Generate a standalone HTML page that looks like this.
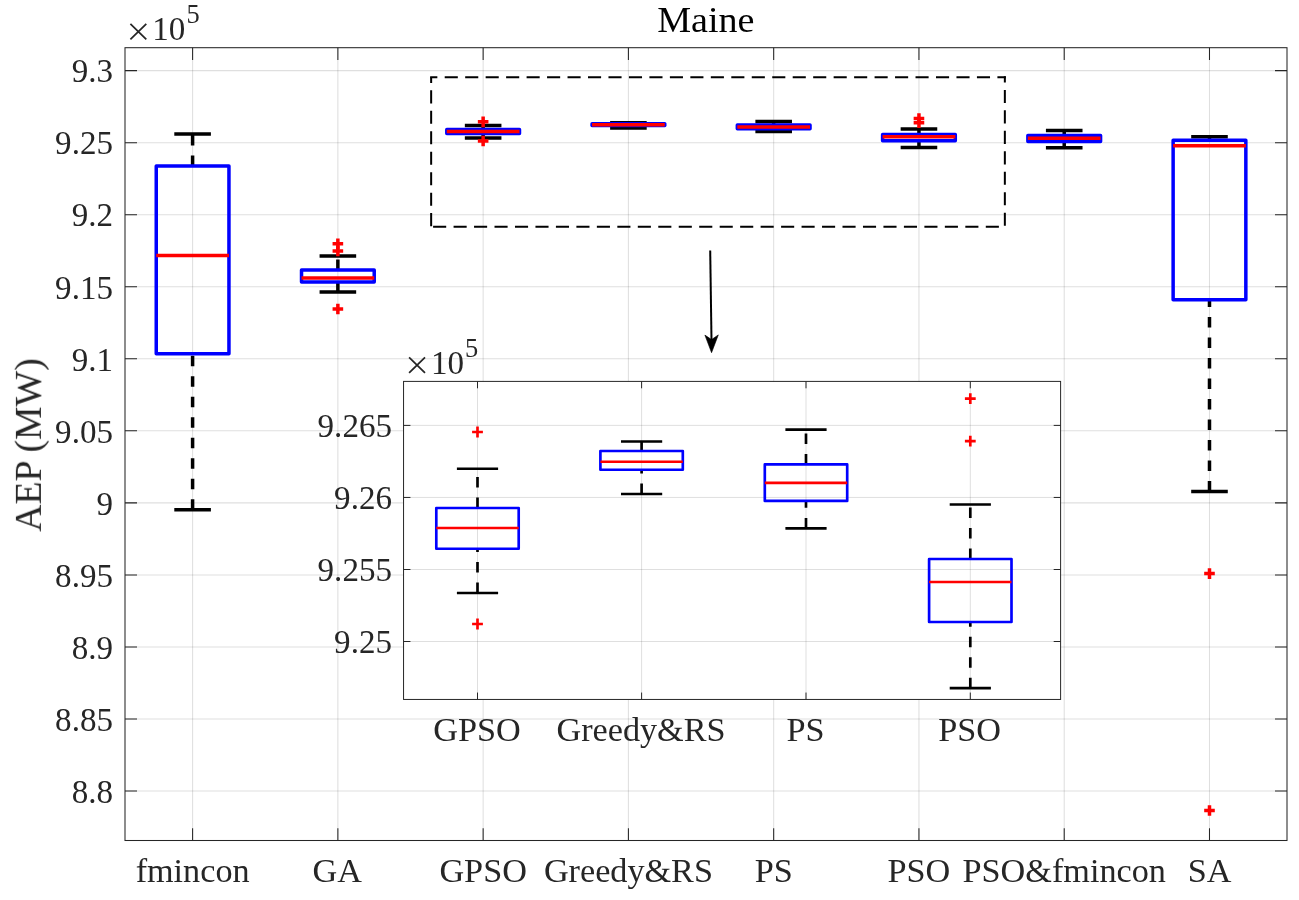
<!DOCTYPE html>
<html><head><meta charset="utf-8"><title>Maine AEP boxplot</title>
<style>html,body{margin:0;padding:0;background:#fff;}svg{display:block;font-family:"Liberation Serif",serif;}</style>
</head><body>
<svg width="1299" height="900" viewBox="0 0 1299 900">
<rect x="0" y="0" width="1299" height="900" fill="#fff"/>
<path d="M192.60 47.7V840.5M337.87 47.7V840.5M483.14 47.7V840.5M628.41 47.7V840.5M773.68 47.7V840.5M918.95 47.7V840.5M1064.22 47.7V840.5M1209.49 47.7V840.5" stroke="#262626" stroke-opacity="0.15" stroke-width="1.05" fill="none"/>
<path d="M125.0 70.60H1287.0M125.0 142.65H1287.0M125.0 214.69H1287.0M125.0 286.74H1287.0M125.0 358.78H1287.0M125.0 430.83H1287.0M125.0 502.87H1287.0M125.0 574.92H1287.0M125.0 646.96H1287.0M125.0 719.01H1287.0M125.0 791.05H1287.0" stroke="#262626" stroke-opacity="0.15" stroke-width="1.05" fill="none"/>
<path d="M192.60 166.00V134.00M192.60 509.75V353.75" stroke="#000" stroke-width="3.5" stroke-dasharray="10.4 10.1" fill="none"/><path d="M174.30 134.00H210.90M174.30 509.75H210.90" stroke="#000" stroke-width="3.5" fill="none"/><rect x="156.25" y="166.00" width="72.70" height="187.75" stroke="#0000ff" stroke-width="3.5" fill="none" stroke-linejoin="round"/><path d="M156.25 255.50H228.95" stroke="#ff0000" stroke-width="3.5" fill="none"/>
<path d="M337.87 270.00V256.00M337.87 292.10V282.00" stroke="#000" stroke-width="3.5" stroke-dasharray="10.4 10.1" fill="none"/><path d="M319.57 256.00H356.17M319.57 292.10H356.17" stroke="#000" stroke-width="3.5" fill="none"/><rect x="301.52" y="270.00" width="72.70" height="12.00" stroke="#0000ff" stroke-width="3.5" fill="none" stroke-linejoin="round"/><path d="M301.52 278.00H374.22" stroke="#ff0000" stroke-width="3.5" fill="none"/><path d="M332.57 243.70H343.17M337.87 238.40V249.00" stroke="#ff0000" stroke-width="3.5" fill="none"/><path d="M332.57 250.90H343.17M337.87 245.60V256.20" stroke="#ff0000" stroke-width="3.5" fill="none"/><path d="M332.57 309.05H343.17M337.87 303.75V314.35" stroke="#ff0000" stroke-width="3.5" fill="none"/>
<path d="M483.14 129.44V125.51M483.14 137.94V133.51" stroke="#000" stroke-width="3.5" stroke-dasharray="10.4 10.1" fill="none"/><path d="M464.84 125.51H501.44M464.84 137.94H501.44" stroke="#000" stroke-width="3.5" fill="none"/><rect x="446.79" y="129.44" width="72.70" height="4.07" stroke="#0000ff" stroke-width="3.5" fill="none" stroke-linejoin="round"/><path d="M446.79 131.44H519.49" stroke="#ff0000" stroke-width="3.5" fill="none"/><path d="M477.84 121.84H488.44M483.14 116.54V127.14" stroke="#ff0000" stroke-width="3.5" fill="none"/><path d="M477.84 141.04H488.44M483.14 135.74V146.34" stroke="#ff0000" stroke-width="3.5" fill="none"/>
<path d="M628.41 123.74V122.79M628.41 128.04V125.61" stroke="#000" stroke-width="3.5" stroke-dasharray="10.4 10.1" fill="none"/><path d="M610.11 122.79H646.71M610.11 128.04H646.71" stroke="#000" stroke-width="3.5" fill="none"/><rect x="592.06" y="123.74" width="72.70" height="1.88" stroke="#0000ff" stroke-width="3.5" fill="none" stroke-linejoin="round"/><path d="M592.06 124.81H664.76" stroke="#ff0000" stroke-width="3.5" fill="none"/>
<path d="M773.68 125.08V121.60M773.68 131.47V128.73" stroke="#000" stroke-width="3.5" stroke-dasharray="10.4 10.1" fill="none"/><path d="M755.38 121.60H791.98M755.38 131.47H791.98" stroke="#000" stroke-width="3.5" fill="none"/><rect x="737.33" y="125.08" width="72.70" height="3.65" stroke="#0000ff" stroke-width="3.5" fill="none" stroke-linejoin="round"/><path d="M737.33 126.92H810.03" stroke="#ff0000" stroke-width="3.5" fill="none"/>
<path d="M918.95 134.54V129.09M918.95 147.46V140.84" stroke="#000" stroke-width="3.5" stroke-dasharray="10.4 10.1" fill="none"/><path d="M900.65 129.09H937.25M900.65 147.46H937.25" stroke="#000" stroke-width="3.5" fill="none"/><rect x="882.60" y="134.54" width="72.70" height="6.30" stroke="#0000ff" stroke-width="3.5" fill="none" stroke-linejoin="round"/><path d="M882.60 136.84H955.30" stroke="#ff0000" stroke-width="3.5" fill="none"/><path d="M913.65 118.51H924.25M918.95 113.21V123.81" stroke="#ff0000" stroke-width="3.5" fill="none"/><path d="M913.65 122.75H924.25M918.95 117.45V128.05" stroke="#ff0000" stroke-width="3.5" fill="none"/>
<path d="M1064.22 135.40V130.50M1064.22 147.75V141.40" stroke="#000" stroke-width="3.5" stroke-dasharray="10.4 10.1" fill="none"/><path d="M1045.92 130.50H1082.52M1045.92 147.75H1082.52" stroke="#000" stroke-width="3.5" fill="none"/><rect x="1027.87" y="135.40" width="72.70" height="6.00" stroke="#0000ff" stroke-width="3.5" fill="none" stroke-linejoin="round"/><path d="M1027.87 138.25H1100.57" stroke="#ff0000" stroke-width="3.5" fill="none"/>
<path d="M1209.49 140.25V136.75M1209.49 491.40V299.75" stroke="#000" stroke-width="3.5" stroke-dasharray="10.4 10.1" fill="none"/><path d="M1191.19 136.75H1227.79M1191.19 491.40H1227.79" stroke="#000" stroke-width="3.5" fill="none"/><rect x="1173.14" y="140.25" width="72.70" height="159.50" stroke="#0000ff" stroke-width="3.5" fill="none" stroke-linejoin="round"/><path d="M1173.14 145.75H1245.84" stroke="#ff0000" stroke-width="3.5" fill="none"/><path d="M1204.19 573.60H1214.79M1209.49 568.30V578.90" stroke="#ff0000" stroke-width="3.5" fill="none"/><path d="M1204.19 810.50H1214.79M1209.49 805.20V815.80" stroke="#ff0000" stroke-width="3.5" fill="none"/>
<path d="M192.60 840.5v-12.2M192.60 47.7v12.2M337.87 840.5v-12.2M337.87 47.7v12.2M483.14 840.5v-12.2M483.14 47.7v12.2M628.41 840.5v-12.2M628.41 47.7v12.2M773.68 840.5v-12.2M773.68 47.7v12.2M918.95 840.5v-12.2M918.95 47.7v12.2M1064.22 840.5v-12.2M1064.22 47.7v12.2M1209.49 840.5v-12.2M1209.49 47.7v12.2M125.0 70.60h12M1287.0 70.60h-12M125.0 142.65h12M1287.0 142.65h-12M125.0 214.69h12M1287.0 214.69h-12M125.0 286.74h12M1287.0 286.74h-12M125.0 358.78h12M1287.0 358.78h-12M125.0 430.83h12M1287.0 430.83h-12M125.0 502.87h12M1287.0 502.87h-12M125.0 574.92h12M1287.0 574.92h-12M125.0 646.96h12M1287.0 646.96h-12M125.0 719.01h12M1287.0 719.01h-12M125.0 791.05h12M1287.0 791.05h-12" stroke="#262626" stroke-width="1.05" fill="none"/>
<rect x="125.0" y="47.7" width="1162.0" height="792.80" stroke="#262626" stroke-width="1.05" fill="none"/>
<path d="M431.15 226.85H1004.85" stroke="#000" stroke-width="2" stroke-dasharray="13.1 7.37" fill="none" stroke-dashoffset="18.52"/>
<path d="M1004.85 226.85V76.2" stroke="#000" stroke-width="2" stroke-dasharray="13.1 7.37" fill="none" stroke-dashoffset="19.42"/>
<path d="M1005.85 77.2H430.15" stroke="#000" stroke-width="2" stroke-dasharray="13.1 7.37" fill="none" stroke-dashoffset="4.65"/>
<path d="M431.15 77.2V226.85" stroke="#000" stroke-width="2" stroke-dasharray="13.1 7.37" fill="none" stroke-dashoffset="7.37"/>
<path d="M710.2 250.5L711.5 340" stroke="#000" stroke-width="2" fill="none"/>
<path d="M711.55 352.7L704.9 335.1L711.55 339.6L718.3 334.9Z" fill="#000" stroke="#000" stroke-width="0.6" stroke-linejoin="round"/>
<rect x="403.55" y="381.4" width="657.05" height="318.05" fill="#fff"/>
<path d="M477.50 381.4V699.45M641.60 381.4V699.45M806.00 381.4V699.45M970.30 381.4V699.45" stroke="#262626" stroke-opacity="0.15" stroke-width="1.0" fill="none"/>
<path d="M403.55 425.40H1060.6M403.55 497.45H1060.6M403.55 569.50H1060.6M403.55 641.50H1060.6" stroke="#262626" stroke-opacity="0.15" stroke-width="1.0" fill="none"/>
<path d="M477.50 508.00V468.75M477.50 593.00V548.75" stroke="#000" stroke-width="2.67" stroke-dasharray="10.4 10.1" fill="none"/><path d="M456.90 468.75H498.10M456.90 593.00H498.10" stroke="#000" stroke-width="2.67" fill="none"/><rect x="436.30" y="508.00" width="82.40" height="40.75" stroke="#0000ff" stroke-width="2.67" fill="none" stroke-linejoin="round"/><path d="M436.30 528.00H518.70" stroke="#ff0000" stroke-width="2.67" fill="none"/><path d="M472.10 432.00H482.90M477.50 426.60V437.40" stroke="#ff0000" stroke-width="2.67" fill="none"/><path d="M472.10 624.00H482.90M477.50 618.60V629.40" stroke="#ff0000" stroke-width="2.67" fill="none"/>
<path d="M641.60 451.00V441.50M641.60 494.00V469.75" stroke="#000" stroke-width="2.67" stroke-dasharray="10.4 10.1" fill="none"/><path d="M621.00 441.50H662.20M621.00 494.00H662.20" stroke="#000" stroke-width="2.67" fill="none"/><rect x="600.40" y="451.00" width="82.40" height="18.75" stroke="#0000ff" stroke-width="2.67" fill="none" stroke-linejoin="round"/><path d="M600.40 461.75H682.80" stroke="#ff0000" stroke-width="2.67" fill="none"/>
<path d="M806.00 464.40V429.60M806.00 528.30V500.90" stroke="#000" stroke-width="2.67" stroke-dasharray="10.4 10.1" fill="none"/><path d="M785.40 429.60H826.60M785.40 528.30H826.60" stroke="#000" stroke-width="2.67" fill="none"/><rect x="764.80" y="464.40" width="82.40" height="36.50" stroke="#0000ff" stroke-width="2.67" fill="none" stroke-linejoin="round"/><path d="M764.80 482.80H847.20" stroke="#ff0000" stroke-width="2.67" fill="none"/>
<path d="M970.30 559.00V504.50M970.30 688.20V622.00" stroke="#000" stroke-width="2.67" stroke-dasharray="10.4 10.1" fill="none"/><path d="M949.70 504.50H990.90M949.70 688.20H990.90" stroke="#000" stroke-width="2.67" fill="none"/><rect x="929.10" y="559.00" width="82.40" height="63.00" stroke="#0000ff" stroke-width="2.67" fill="none" stroke-linejoin="round"/><path d="M929.10 582.00H1011.50" stroke="#ff0000" stroke-width="2.67" fill="none"/><path d="M964.90 398.70H975.70M970.30 393.30V404.10" stroke="#ff0000" stroke-width="2.67" fill="none"/><path d="M964.90 441.10H975.70M970.30 435.70V446.50" stroke="#ff0000" stroke-width="2.67" fill="none"/>
<path d="M477.50 699.45v-6.9M477.50 381.4v6.9M641.60 699.45v-6.9M641.60 381.4v6.9M806.00 699.45v-6.9M806.00 381.4v6.9M970.30 699.45v-6.9M970.30 381.4v6.9M403.55 425.40h6.9M1060.6 425.40h-6.9M403.55 497.45h6.9M1060.6 497.45h-6.9M403.55 569.50h6.9M1060.6 569.50h-6.9M403.55 641.50h6.9M1060.6 641.50h-6.9" stroke="#262626" stroke-width="1" fill="none"/>
<rect x="403.55" y="381.4" width="657.05" height="318.05" stroke="#262626" stroke-width="1" fill="none"/>
<g font-family="'Liberation Serif', serif" fill="#262626" font-size="34.0" opacity="0.999">
<text transform="translate(113.00 82.40) scale(0.973 1)" text-anchor="end">9.3</text>
<text transform="translate(113.00 154.45) scale(0.973 1)" text-anchor="end">9.25</text>
<text transform="translate(113.00 226.49) scale(0.973 1)" text-anchor="end">9.2</text>
<text transform="translate(113.00 298.54) scale(0.973 1)" text-anchor="end">9.15</text>
<text transform="translate(113.00 370.58) scale(0.973 1)" text-anchor="end">9.1</text>
<text transform="translate(113.00 442.63) scale(0.973 1)" text-anchor="end">9.05</text>
<text transform="translate(113.00 514.67) scale(0.973 1)" text-anchor="end">9</text>
<text transform="translate(113.00 586.72) scale(0.973 1)" text-anchor="end">8.95</text>
<text transform="translate(113.00 658.76) scale(0.973 1)" text-anchor="end">8.9</text>
<text transform="translate(113.00 730.81) scale(0.973 1)" text-anchor="end">8.85</text>
<text transform="translate(113.00 802.85) scale(0.973 1)" text-anchor="end">8.8</text>
<text transform="translate(192.60 881.7) scale(1.021 1)" font-size="33.5" text-anchor="middle">fmincon</text>
<text transform="translate(337.17 881.7) scale(1.021 1)" font-size="33.5" text-anchor="middle">GA</text>
<text transform="translate(483.14 881.7) scale(1.021 1)" font-size="33.5" text-anchor="middle">GPSO</text>
<text transform="translate(628.41 881.7) scale(1.021 1)" font-size="33.5" text-anchor="middle">Greedy&amp;RS</text>
<text transform="translate(773.68 881.7) scale(1.021 1)" font-size="33.5" text-anchor="middle">PS</text>
<text transform="translate(918.95 881.7) scale(1.021 1)" font-size="33.5" text-anchor="middle">PSO</text>
<text transform="translate(1064.22 881.7) scale(1.021 1)" font-size="33.5" text-anchor="middle">PSO&amp;fmincon</text>
<text transform="translate(1209.49 881.7) scale(1.021 1)" font-size="33.5" text-anchor="middle">SA</text>
<path d="M130.40 23.80L146.30 39.30M130.40 39.30L146.30 23.80" stroke="#262626" stroke-width="1.75" fill="none"/><text transform="translate(152.30 39.90) scale(0.973 1)" text-anchor="start">10</text><text transform="translate(186.40 23.00) scale(0.973 1)" text-anchor="start" font-size="27.2">5</text>
<path d="M409.10 357.40L425.00 372.90M409.10 372.90L425.00 357.40" stroke="#262626" stroke-width="1.75" fill="none"/><text transform="translate(431.00 373.50) scale(0.973 1)" text-anchor="start">10</text><text transform="translate(465.10 356.60) scale(0.973 1)" text-anchor="start" font-size="27.2">5</text>
<text transform="translate(392.00 437.20) scale(0.973 1)" text-anchor="end">9.265</text>
<text transform="translate(392.00 509.25) scale(0.973 1)" text-anchor="end">9.26</text>
<text transform="translate(392.00 581.30) scale(0.973 1)" text-anchor="end">9.255</text>
<text transform="translate(392.00 653.30) scale(0.973 1)" text-anchor="end">9.25</text>
<text transform="translate(476.90 741.1) scale(1.021 1)" font-size="33.5" text-anchor="middle">GPSO</text>
<text transform="translate(641.00 741.1) scale(1.021 1)" font-size="33.5" text-anchor="middle">Greedy&amp;RS</text>
<text transform="translate(805.40 741.1) scale(1.021 1)" font-size="33.5" text-anchor="middle">PS</text>
<text transform="translate(969.70 741.1) scale(1.021 1)" font-size="33.5" text-anchor="middle">PSO</text>
<text font-size="37" text-anchor="middle" transform="translate(40.9 445) rotate(-90) scale(1.02 1)">AEP (MW)</text>
<text font-size="36.3" text-anchor="middle" fill="#000" transform="translate(705.8 32.3) scale(1.05 1)">Maine</text>
</g>
</svg>
</body></html>
